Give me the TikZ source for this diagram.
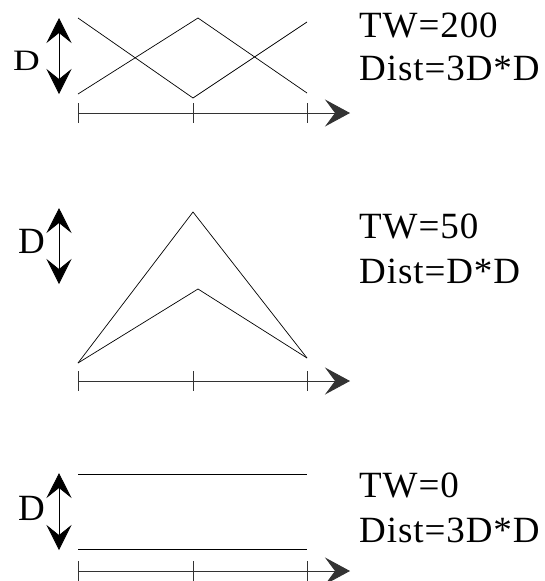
\documentclass[tikz,border=0pt]{standalone}
\usepackage{fontspec}
\setmainfont{Liberation Serif}
\newfontfamily\tnr{Liberation Serif}
\newfontfamily\tnrwide[LetterSpace=2.5]{Liberation Serif}
\usepackage{tikz}
\usetikzlibrary{arrows.meta}
\tikzset{
  curve/.style = {line width=0.7pt, black},
  axis/.style  = {line width=0.9pt, black!80, -{Stealth[length=25pt, width=27pt, inset=10pt]}},
  tick/.style  = {line width=0.9pt, black!80},
  dbl/.style   = {line width=0.7pt, {Stealth[length=25pt, width=25pt, inset=10pt]}-{Stealth[length=25pt, width=25pt, inset=10pt]}},
  lbl/.style   = {font=\tnr\fontsize{37}{44}\selectfont, inner sep=0pt},
  info/.style  = {font=\tnrwide\fontsize{37}{44}\selectfont, inner sep=0pt, anchor=base west},
}
% one time axis with three ticks at height #1
\newcommand{\timeaxis}[2]{%
  \coordinate (#2a) at (78,#1);
  \coordinate (#2b) at (193,#1);
  \coordinate (#2c) at (307,#1);
  \coordinate (#2e) at (350,#1);
  \draw[axis] (#2a) -- (#2e);
  \foreach \p in {a,b,c}
    \draw[tick] ([yshift=10pt]#2\p) -- ([yshift=-10pt]#2\p);
}

\begin{document}
\begin{tikzpicture}[x=1pt, y=-1pt]
  \useasboundingbox (0,0) rectangle (544,581);

  % TW=200
  \coordinate (p1l) at (78,18);
  \coordinate (p1m) at (193,98);
  \coordinate (p1r) at (307,22);
  \coordinate (q1l) at (78,94);
  \coordinate (q1m) at (198,18);
  \coordinate (q1r) at (307,93);
  \draw[curve] (p1l) -- (p1m) -- (p1r);
  \draw[curve] (q1l) -- (q1m) -- (q1r);
  \coordinate (d1t) at (59,18);
  \coordinate (d1b) at (59,94);
  \draw[dbl] (d1t) -- (d1b);
  \node[lbl, anchor=base east, yscale=0.8] (dlab1) at (40,70) {D};
  \timeaxis{113}{x1}
  \node[info] (tw1) at (359,37) {TW=200};
  \node[info] (dist1) at (359,80) {Dist=3D*D};

  % TW=50
  \coordinate (p2l) at (78,363);
  \coordinate (p2m) at (193,212);
  \coordinate (p2r) at (307,358);
  \coordinate (q2m) at (198,289);
  \draw[curve] (p2l) -- (p2m) -- (p2r);
  \draw[curve] (p2l) -- (q2m) -- (p2r);
  \coordinate (d2t) at (59,208);
  \coordinate (d2b) at (59,284);
  \draw[dbl] (d2t) -- (d2b);
  \node[lbl, anchor=base east] (dlab2) at (45,253) {D};
  \timeaxis{381}{x2}
  \node[info] (tw2) at (359,238) {TW=50};
  \node[info] (dist2) at (359,283) {Dist=D*D};

  % TW=0
  \coordinate (p3l) at (78,474);
  \coordinate (p3r) at (307,474);
  \coordinate (q3l) at (78,549);
  \coordinate (q3r) at (307,549);
  \draw[curve] (p3l) -- (p3r);
  \draw[curve] (q3l) -- (q3r);
  \coordinate (d3t) at (59,473);
  \coordinate (d3b) at (59,550);
  \draw[dbl] (d3t) -- (d3b);
  \node[lbl, anchor=base east] (dlab3) at (45,520) {D};
  \timeaxis{571}{x3}
  \node[info] (tw3) at (359,497) {TW=0};
  \node[info] (dist3) at (359,542) {Dist=3D*D};
\end{tikzpicture}
\end{document}
